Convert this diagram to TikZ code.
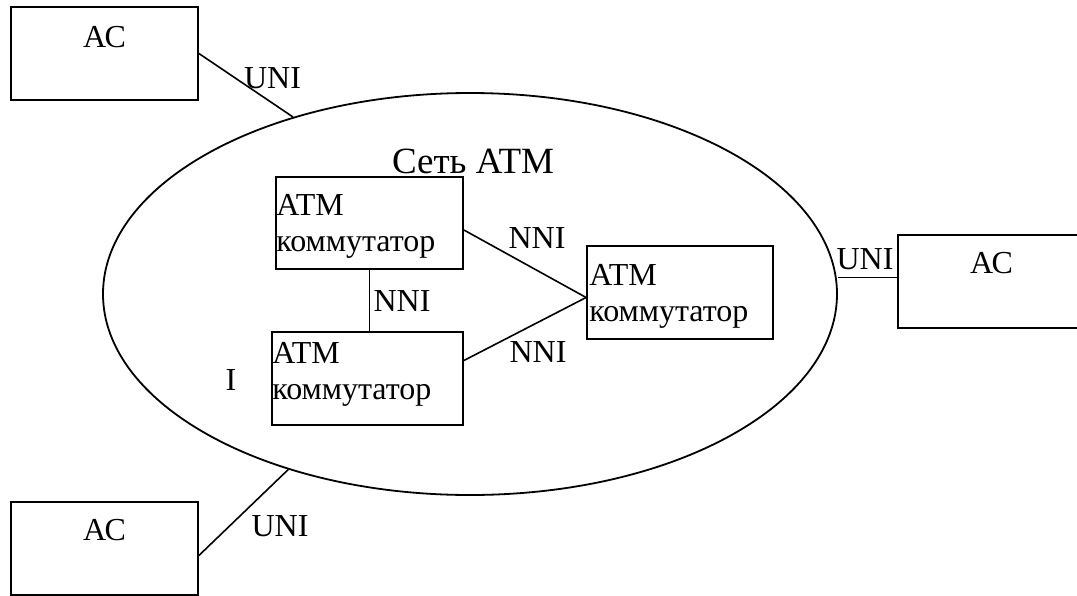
\documentclass[tikz,border=0pt]{standalone}
\usepackage{fontspec}
\setmainfont{Liberation Serif}
\usetikzlibrary{shapes.geometric, positioning}
\tikzstyle{acbox} = [rectangle, draw=black, line width=1.8pt, minimum width=187pt, minimum height=93pt, inner sep=0pt]
\tikzstyle{swbox} = [rectangle, draw=black, line width=1.8pt, minimum height=92pt, inner sep=0pt]
\tikzstyle{netshape} = [ellipse, draw=black, line width=1.8pt, minimum width=734pt, minimum height=402pt, inner sep=0pt]
\tikzstyle{txt} = [inner sep=0pt, font=\fontsize{32}{36}\selectfont]
\tikzstyle{link} = [line width=1.6pt]

\begin{document}
\begin{tikzpicture}[x=1pt, y=-1pt]
    \useasboundingbox (0,0) rectangle (1077,595);
    \clip (0,0) rectangle (1077,595);
    % network and stations
    \node (net) [netshape] at (470,294) {};
    \node (acTL) [acbox] at (104.5,53.5) {};
    \node (acR) [acbox] at (991.5,281.5) {};
    \node (acBL) [acbox] at (104.5,548.5) {};
    \node (acTLtxt) [txt, below=20pt of acTL.north] {АС};
    \node (acRtxt) [txt, below=18pt of acR.north] {АС};
    \node (acBLtxt) [txt, below=18pt of acBL.north] {АС};
    % switches
    \node (sw1) [swbox, minimum width=187pt] at (369.5,223) {};
    \node (sw2) [swbox, minimum width=191pt, minimum height=93pt] at (367.5,378.5) {};
    \node (sw3) [swbox, minimum width=186pt, minimum height=93pt] at (680,292.5) {};
    \node (sw1txt) [txt, align=left, below right=18pt and 1pt of sw1.north west] {ATM\\коммутатор};
    \node (sw2txt) [txt, align=left, below right=11pt and 1pt of sw2.north west] {ATM\\коммутатор};
    \node (sw3txt) [txt, align=left, below right=19pt and 3pt of sw3.north west] {ATM\\коммутатор};
    % links
    \draw [link] (acTL.east) -- (net.135.5);
    \draw [link] ([yshift=4pt]acR.west) -- ([yshift=4pt]acR.west -| net.east);
    \draw [link] ([yshift=-7pt]acBL.east) -- (net.224);
    \draw [link] ([yshift=-7pt]sw1.east) -- ([yshift=-5pt]sw3.west);
    \draw [link] ([yshift=18pt]sw2.east) -- ([yshift=-5pt]sw3.west);
    \draw [link] (sw1.south) -- (sw1.south |- sw2.north);
    % labels
    \node (uniTL) [txt] at (272.5,78.5) {UNI};
    \node (uniR) [txt] at (865,259) {UNI};
    \node (uniBL) [txt] at (280,526) {UNI};
    \node (nni1) [txt] at (537,238) {NNI};
    \node (nni2) [txt] at (402,301) {NNI};
    \node (nni3) [txt] at (538,352) {NNI};
    \node (title) [txt, font=\fontsize{37}{42}\selectfont] at (473,161) {Сеть ATM};
    \node (mark) [txt] at (231,380) {I};
\end{tikzpicture}
\end{document}
